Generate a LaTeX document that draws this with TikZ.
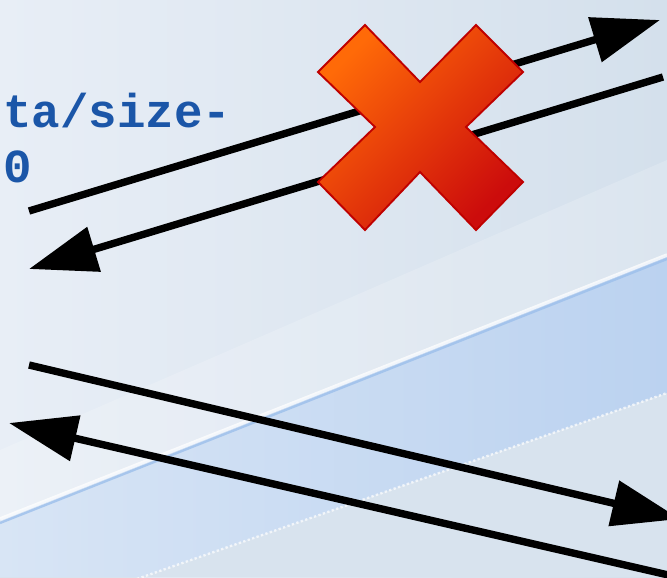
\documentclass[tikz,border=0pt]{standalone}
\usepackage{fontspec}
\usepackage{tikz}
\usetikzlibrary{arrows.meta, positioning, calc}
\newfontfamily\codefont{Liberation Mono}
\definecolor{bgLight}{HTML}{E8EEF6}
\definecolor{bgDark}{HTML}{D4E0EC}
\definecolor{bandLight}{HTML}{D8E5F5}
\definecolor{bandBlue}{HTML}{BBD2F0}
\definecolor{bandLow}{HTML}{D8E3EE}
\definecolor{streakBlue}{HTML}{9CBFEB}
\definecolor{codeBlue}{HTML}{1B56A8}
\definecolor{crossOrange}{HTML}{FF6A08}
\definecolor{crossRed}{HTML}{CC0C0C}
\definecolor{crossStroke}{HTML}{BF0000}
\tikzset{
  msg/.style={
    -{Triangle[length=2.04cm, width=1.35cm]},
    line width=6.3pt, black
  },
  codetext/.style={
    inner sep=0pt, align=left, text=codeBlue,
    font=\codefont\bfseries\fontsize{40.5}{46.8}\selectfont
  },
  cross/.style={
    draw=crossStroke, line width=1.6pt, line join=miter,
    top color=crossOrange, bottom color=crossRed, shading angle=45
  },
}
\begin{document}
\begin{tikzpicture}[x=0.03cm, y=-0.03cm]
  \useasboundingbox (0,0) rectangle (667,577);
  \clip (0,0) rectangle (667,577);

  % background
  \shade[left color=bgLight, right color=bgDark] (0,0) rectangle (667,577);
  \fill[white, opacity=0.18] (0,450) -- (667,160) -- (667,255) -- (0,519) -- cycle;
  \shade[left color=bandLight, right color=bandBlue]
    (0,519) -- (667,255) -- (667,393) -- (0,627) -- cycle;
  \fill[bandLow] (0,627) -- (667,393) -- (667,577) -- (0,577) -- cycle;
  \draw[streakBlue, line width=2pt, opacity=0.8] (0,523) -- (667,259);
  \draw[white, line width=3pt, opacity=0.75] (0,519) -- (667,255);
  \draw[white, line width=2pt, opacity=0.7, dash pattern=on 2pt off 2pt] (0,627) -- (667,393);

  % text
  \node[codetext, anchor=base west] (path) at (3,182) {ta/size-\\0};

  % end points
  \coordinate (leftA) at (29,211);
  \coordinate (rightA) at (660,20);
  \coordinate (rightB) at (663,77);
  \coordinate (leftB) at (29,269);
  \coordinate (leftC) at (29,365);
  \coordinate (rightC) at (680,519);
  \coordinate (rightD) at (690,580);
  \coordinate (leftD) at (9,423);

  \draw[msg] (leftA) -- (rightA);
  \draw[msg] (rightB) -- (leftB);
  \draw[msg] (leftC) -- (rightC);
  \draw[msg] (rightD) -- (leftD);

  % failed request
  \path[cross] (365,25) -- (420,82) -- (476,25) -- (523,72) -- (466,127)
    -- (523,182) -- (476,230) -- (420,172) -- (365,230) -- (318,182)
    -- (375,127) -- (318,72) -- cycle;
\end{tikzpicture}
\end{document}
